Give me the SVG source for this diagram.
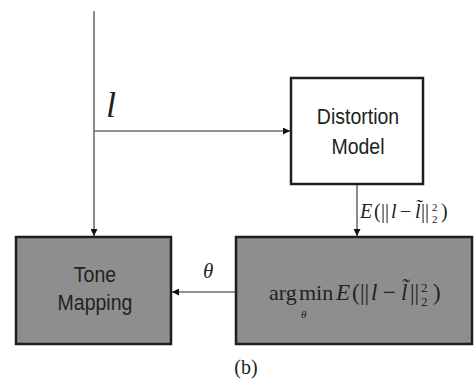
<svg xmlns="http://www.w3.org/2000/svg" width="474" height="383" viewBox="0 0 474 383">
  <defs>
    <style>
      .box { stroke: #1e1e1e; stroke-width: 2.5; }
      .light { fill: #ffffff; }
      .dark { fill: #8e8e8e; }
      .wire { stroke: #6e6e6e; stroke-width: 1.6; fill: none; }
      .sans { font-family: "Liberation Sans", Arial, sans-serif; font-size: 19.5px; fill: #222; text-anchor: middle; }
      .math { font-family: "Liberation Serif", "Times New Roman", serif; fill: #222; }
      .it { font-style: italic; }
    </style>
    <marker id="arrow" viewBox="0 0 10 10" refX="10" refY="5" markerWidth="8" markerHeight="7" orient="auto" markerUnits="userSpaceOnUse">
      <path d="M0,0 L10,5 L0,10 z" fill="#111"/>
    </marker>
  </defs>
  <rect width="474" height="383" fill="#ffffff"/>

  <g id="connectors">
    <!-- input line down to tone mapping -->
    <line class="wire" x1="94" y1="11" x2="94" y2="236" marker-end="url(#arrow)"/>
    <!-- branch to distortion model -->
    <line class="wire" x1="94" y1="131" x2="290" y2="131" marker-end="url(#arrow)"/>
    <!-- distortion model to optimiser -->
    <line class="wire" x1="357" y1="185" x2="357" y2="236" marker-end="url(#arrow)"/>
    <!-- optimiser to tone mapping -->
    <line class="wire" x1="236" y1="292" x2="172" y2="292" marker-end="url(#arrow)"/>
    <text class="math it" x="106" y="117" font-size="36">l</text>
    <text class="math it" x="203" y="278" font-size="21">θ</text>
    <text class="math" y="218" font-size="20"><tspan class="it" x="360">E</tspan><tspan x="374">(</tspan><tspan x="381">||</tspan><tspan class="it" x="391">l</tspan><tspan x="400">−</tspan><tspan class="it" x="415">l̃</tspan><tspan x="421">||</tspan><tspan x="441">)</tspan></text>
    <text class="math" x="432" y="211" font-size="11">2</text>
    <text class="math" x="432" y="223" font-size="11">2</text>
  </g>

  <g id="distortion-model">
    <rect class="box light" x="291" y="78" width="132" height="106"/>
    <text class="sans" transform="translate(358,124) scale(1,1.15)">Distortion</text>
    <text class="sans" transform="translate(358,154) scale(1,1.15)">Model</text>
  </g>

  <g id="tone-mapping">
    <rect class="box dark" x="16" y="237" width="155" height="107"/>
    <text class="sans" transform="translate(95,282) scale(1,1.15)">Tone</text>
    <text class="sans" transform="translate(95,310) scale(1,1.15)">Mapping</text>
  </g>

  <g id="optimiser">
    <rect class="box dark" x="236" y="237" width="236" height="107"/>
    <text class="math" x="269" y="300" font-size="22">arg</text>
    <text class="math" x="299" y="300" font-size="22">min</text>
    <text class="math" y="300" font-size="23"><tspan class="it" x="336">E</tspan><tspan x="352">(</tspan><tspan x="360">||</tspan><tspan class="it" x="371">l</tspan><tspan x="383">−</tspan><tspan class="it" x="401">l̃</tspan><tspan x="410">||</tspan><tspan x="433">)</tspan></text>
    <text class="math" x="421" y="292" font-size="13">2</text>
    <text class="math" x="421" y="306" font-size="13">2</text>
    <text class="math it" x="301" y="318" font-size="11">θ</text>
  </g>

  <text class="math" x="246" y="374" font-size="20" text-anchor="middle">(b)</text>
</svg>
